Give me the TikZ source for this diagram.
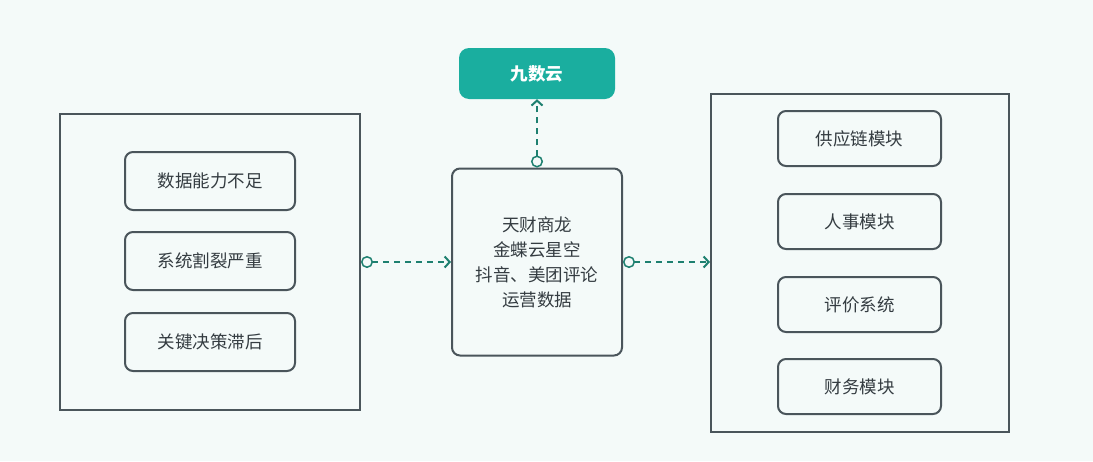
\documentclass[tikz,border=0pt]{standalone}
\usepackage{fontspec}
\setmainfont{Noto Sans CJK SC}
\usepackage{tikz}
\usetikzlibrary{arrows.meta,positioning}

\definecolor{edgegray}{HTML}{4A555B}
\definecolor{textgray}{HTML}{343C41}
\definecolor{cloudteal}{HTML}{1AAE9F}
\definecolor{linkteal}{HTML}{1E8070}
\definecolor{bgtint}{HTML}{F4FAF9}

\begin{document}
\begin{tikzpicture}[
    x=1pt, y=-1pt,
    font=\fontsize{17.5}{25}\selectfont,
    text=textgray,
    frame/.style={draw=edgegray, line width=2pt, minimum width=#1},
    item/.style={draw=edgegray, line width=2pt, rounded corners=8pt, align=center},
    link/.style={{Circle[open, length=12pt, width=12pt, line width=1.5pt]}-{Straight Barb[length=5pt, width=11pt]},
      draw=linkteal, line width=2pt, dash pattern=on 6pt off 5pt}
  ]
  \fill[bgtint] (0,0) rectangle (1093,461);
  \useasboundingbox (0,0) rectangle (1093,461);

  % left side: problems
  \node[frame=300pt, minimum height=296pt] (pains) at (210,262) {};
  \node[item, minimum width=170pt, minimum height=58pt] (p1) at (210,181) {数据能力不足};
  \node[item, minimum width=170pt, minimum height=58pt, below=20pt of p1] (p2) {系统割裂严重};
  \node[item, minimum width=170pt, minimum height=58pt, below=21pt of p2] (p3) {关键决策滞后};

  % middle: data sources
  \node[item, minimum width=170pt, minimum height=187pt] (src) at (537,262)
    {天财商龙\\金蝶云星空\\抖音、美团评论\\运营数据};
  \node[fill=cloudteal, rounded corners=10pt, minimum width=156pt, minimum height=51pt,
    text=white, font=\fontsize{17.5}{25}\selectfont\bfseries] (jsy) at (537,73.5) {九数云};

  % right side: modules
  \node[frame=298pt, minimum height=338pt] (mods) at (860,263) {};
  \node[item, minimum width=163pt, minimum height=55pt] (m1) at (859.5,138.5) {供应链模块};
  \node[item, minimum width=163pt, minimum height=55pt, below=26pt of m1] (m2) {人事模块};
  \node[item, minimum width=163pt, minimum height=55pt, below=26pt of m2] (m3) {评价系统};
  \node[item, minimum width=163pt, minimum height=55pt, below=25pt of m3] (m4) {财务模块};

  \draw[link] (pains.east) -- (src.west);
  \draw[link] (src.east) -- (src.east -| mods.west);
  \draw[link] (src.north) -- (jsy.south);
\end{tikzpicture}
\end{document}
